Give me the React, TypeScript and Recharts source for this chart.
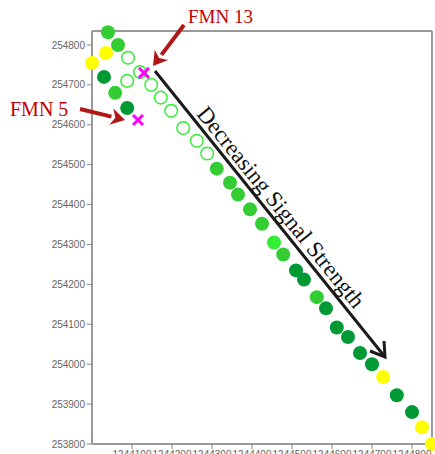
import { Scatter, ScatterChart, XAxis, YAxis } from 'recharts';

// easting / northing of each site, grouped by marker style
const yellowPts = [
  { x: 1244035, y: 254780 },
  { x: 1244000, y: 254755 },
  { x: 1244728, y: 253968 },
  { x: 1244825, y: 253842 },
  { x: 1244850, y: 253800 },
];
const mediumGreenPts = [
  { x: 1244040, y: 254832 },
  { x: 1244065, y: 254800 },
  { x: 1244058, y: 254680 },
  { x: 1244312, y: 254490 },
  { x: 1244345, y: 254455 },
  { x: 1244365, y: 254425 },
  { x: 1244395, y: 254388 },
  { x: 1244425, y: 254352 },
  { x: 1244478, y: 254275 },
  { x: 1244562, y: 254168 },
];
const brightGreenPts = [{ x: 1244455, y: 254305 }];
const darkGreenPts = [
  { x: 1244030, y: 254720 },
  { x: 1244088, y: 254642 },
  { x: 1244510, y: 254235 },
  { x: 1244530, y: 254212 },
  { x: 1244585, y: 254140 },
  { x: 1244612, y: 254092 },
  { x: 1244640, y: 254068 },
  { x: 1244670, y: 254028 },
  { x: 1244700, y: 254000 },
  { x: 1244762, y: 253922 },
  { x: 1244800, y: 253880 },
];
const openPts = [
  { x: 1244090, y: 254768 },
  { x: 1244088, y: 254710 },
  { x: 1244120, y: 254732 },
  { x: 1244148, y: 254700 },
  { x: 1244172, y: 254668 },
  { x: 1244198, y: 254635 },
  { x: 1244228, y: 254592 },
  { x: 1244262, y: 254560 },
  { x: 1244288, y: 254528 },
];
const fmnPts = [
  { x: 1244130, y: 254730 },
  { x: 1244115, y: 254612 },
];

const xTicks = [1244100, 1244200, 1244300, 1244400, 1244500, 1244600, 1244700, 1244800];
const yTicks = [253800, 253900, 254000, 254100, 254200, 254300, 254400, 254500, 254600, 254700, 254800];

const dot = (fill: string) => (p: any) => <circle cx={p.cx} cy={p.cy} r={7} fill={fill} />;
const ring = (p: any) => <circle cx={p.cx} cy={p.cy} r={6.3} fill="#fff" stroke="#33ee33" strokeWidth={1.5} />;
const cross = (p: any) => (
  <g stroke="#ff00ff" strokeWidth={3}>
    <line x1={p.cx - 5} y1={p.cy - 5} x2={p.cx + 5} y2={p.cy + 5} />
    <line x1={p.cx - 5} y1={p.cy + 5} x2={p.cx + 5} y2={p.cy - 5} />
  </g>
);

function Arrow({ x1, y1, x2, y2, color, w, head }: any) {
  const a = Math.atan2(y2 - y1, x2 - x1);
  const bx = x2 - Math.cos(a) * head;
  const by = y2 - Math.sin(a) * head;
  const px = -Math.sin(a) * head * 0.6;
  const py = Math.cos(a) * head * 0.6;
  return (
    <g>
      <line x1={x1} y1={y1} x2={bx} y2={by} stroke={color} strokeWidth={w} />
      <polygon points={`${x2},${y2} ${bx + px},${by + py} ${bx + Math.cos(a) * 4},${by + Math.sin(a) * 4} ${bx - px},${by - py}`} fill={color} />
    </g>
  );
}

const axisStyle = { stroke: '#999', strokeWidth: 2 };
const tickStyle = { fill: '#666', fontSize: 10, fontFamily: 'Arial, "Liberation Sans"' };

export default function App() {
  return (
    <div style={{ position: 'absolute', left: 0, top: 0, width: 435, height: 454, overflow: 'hidden', background: '#fff' }}>
      <ScatterChart width={440} height={480} margin={{ top: 26, right: 3, bottom: 6, left: 0 }}>
        <XAxis xAxisId="b" type="number" dataKey="x" domain={[1244000, 1244850]} ticks={xTicks} height={30}
          axisLine={axisStyle} tickLine={{ stroke: '#888' }} tickSize={5} tick={tickStyle} interval={0} />
        <XAxis xAxisId="t" orientation="top" type="number" dataKey="x" domain={[1244000, 1244850]} ticks={xTicks} height={5}
          axisLine={axisStyle} tickLine={{ stroke: '#888' }} tickSize={5} tickFormatter={() => ''} />
        <YAxis yAxisId="l" type="number" dataKey="y" domain={[253800, 254835]} ticks={yTicks} width={92}
          axisLine={axisStyle} tickLine={{ stroke: '#888' }} tickSize={5} tick={tickStyle} interval={0} />
        <YAxis yAxisId="r" orientation="right" type="number" dataKey="y" domain={[253800, 254835]} ticks={yTicks} width={5}
          axisLine={axisStyle} tickLine={{ stroke: '#888' }} tickSize={5} tickFormatter={() => ''} />
        <Scatter xAxisId="b" yAxisId="l" data={openPts} shape={ring} isAnimationActive={false} />
        <Scatter xAxisId="b" yAxisId="l" data={mediumGreenPts} shape={dot('#33cc33')} isAnimationActive={false} />
        <Scatter xAxisId="b" yAxisId="l" data={brightGreenPts} shape={dot('#33ee33')} isAnimationActive={false} />
        <Scatter xAxisId="b" yAxisId="l" data={darkGreenPts} shape={dot('#009933')} isAnimationActive={false} />
        <Scatter xAxisId="b" yAxisId="l" data={yellowPts} shape={dot('#ffff00')} isAnimationActive={false} />
        <Scatter xAxisId="b" yAxisId="l" data={fmnPts} shape={cross} isAnimationActive={false} />
      </ScatterChart>
      <svg width={435} height={454} style={{ position: 'absolute', left: 0, top: 0, pointerEvents: 'none' }}>
        <Arrow x1={184} y1={25} x2={153} y2={66} color="#b01818" w={4} head={14} />
        <Arrow x1={80} y1={109} x2={125} y2={120} color="#b01818" w={4} head={14} />
        <line x1={155} y1={71} x2={385} y2={357} stroke="#1a1a1a" strokeWidth={3} />
        <polyline points="370,351 385,357 384,341" fill="none" stroke="#1a1a1a" strokeWidth={3} />
        <text x={188} y={23} fill="#c00000" fontSize={19} fontFamily='"Liberation Serif", serif'>FMN 13</text>
        <text x={10} y={116} fill="#c00000" fontSize={20} fontFamily='"Liberation Serif", serif'>FMN 5</text>
        <text x={275} y={212} fill="#111" fontSize={23} fontFamily='"Liberation Serif", serif' textAnchor="middle"
          transform="rotate(51 275 212)">Decreasing Signal Strength</text>
      </svg>
    </div>
  );
}
